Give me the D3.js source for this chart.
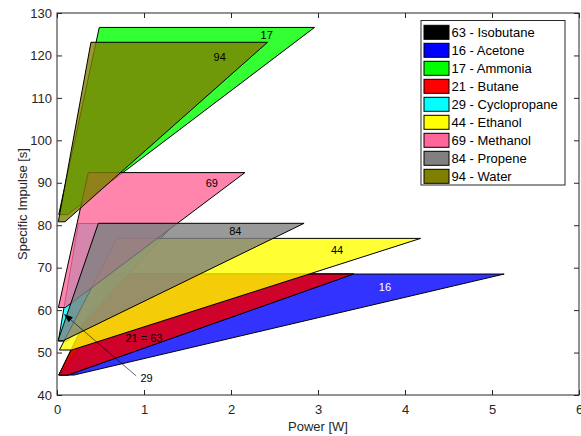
<!DOCTYPE html>
<html>
<head>
<meta charset="utf-8">
<script src="https://cdn.jsdelivr.net/npm/d3@7"></script>
<style>
  html, body { margin: 0; padding: 0; background: #fff; }
  svg { display: block; font-family: "Liberation Sans", Arial, Helvetica, sans-serif; }
</style>
</head>
<body>
<svg id="chart" width="581" height="436"></svg>
<script>
// ---- data ----
const fluidIds   = ["63", "16", "17", "21", "29", "44", "69", "84", "94"];
const fluidNames = ["Isobutane", "Acetone", "Ammonia", "Butane", "Cyclopropane", "Ethanol", "Methanol", "Propene", "Water"];
// corners of each operating region (Power [W], Specific Impulse [s])
const powerBottomLeft  = [0.020, 0.030, 0.020, 0.020, 0.015, 0.028, 0.016, 0.012, 0.015];
const powerBottomRight = [0.126, 0.195, 0.120, 0.126, 0.120, 0.169, 0.095, 0.072, 0.092];
const ispBottom        = [44.7, 44.7, 82.5, 44.7, 52.7, 50.6, 60.6, 52.8, 80.8];
const powerTopLeft     = [0.59, 0.86, 0.486, 0.59, 0.245, 0.69, 0.36, 0.475, 0.39];
const powerTopRight    = [3.41, 5.14, 2.96, 3.41, 1.35, 4.18, 2.16, 2.84, 2.42];
const ispTop           = [68.5, 68.5, 126.6, 68.5, 80.4, 76.9, 92.4, 80.45, 123.1];
// region labels
const labelTexts  = ["17", "94", "69", "84", "44", "16", "21 = 63", "29"];
const labelPower  = [2.41, 1.87, 1.78, 2.05, 3.22, 3.77, 1.00, 1.03];
const labelIsp    = [124.8, 119.6, 90.0, 78.5, 74.2, 65.5, 53.3, 43.9];
// arrow for label 29
const arrowFrom = [0.91, 44.5];
const arrowTo   = [0.08, 59.1];
// axes
const xTicks = [0, 1, 2, 3, 4, 5, 6];
const yTicks = [40, 50, 60, 70, 80, 90, 100, 110, 120, 130];

// ---- styles ----
const palette = ["#000000", "#0000ff", "#00ff00", "#ff0000", "#00ffff", "#ffff00", "#ff6699", "#808080", "#808000"];
const labelColors = ["#000", "#000", "#000", "#000", "#000", "#fff", "#000", "#000"];
const axisColor = "#262626";

const svg = d3.select("#chart");
const L = 57, R = 579, T = 13, B = 395;
const x = d3.scaleLinear().domain([0, 6]).range([L, R]);
const y = d3.scaleLinear().domain([40, 130]).range([B, T]);

// regions
const regions = fluidIds.map((id, i) => ({
  id, name: fluidNames[i], color: palette[i],
  pts: [[powerBottomLeft[i], ispBottom[i]], [powerBottomRight[i], ispBottom[i]],
        [powerTopRight[i], ispTop[i]], [powerTopLeft[i], ispTop[i]]]
}));
const line = d3.line().x(d => x(d[0])).y(d => y(d[1]));
svg.append("g").selectAll("path").data(regions).join("path")
  .attr("d", d => line(d.pts) + "Z")
  .attr("fill", d => d.color)
  .attr("fill-opacity", 0.8)
  .attr("stroke", "#000")
  .attr("stroke-width", 1)
  .attr("stroke-linejoin", "miter");

// labels
svg.append("g").selectAll("text").data(labelTexts).join("text")
  .attr("x", (d, i) => x(labelPower[i]))
  .attr("y", (d, i) => y(labelIsp[i]))
  .attr("dy", "0.35em")
  .attr("text-anchor", "middle")
  .attr("font-size", 11)
  .attr("fill", (d, i) => labelColors[i])
  .text(d => d);

// arrow
const ax0 = x(arrowFrom[0]), ay0 = y(arrowFrom[1]);
const ax1 = x(arrowTo[0]), ay1 = y(arrowTo[1]);
const ang = Math.atan2(ay1 - ay0, ax1 - ax0);
const hl = 9, hw = 3.2;
const bx = ax1 - hl * Math.cos(ang), by = ay1 - hl * Math.sin(ang);
svg.append("line")
  .attr("x1", ax0).attr("y1", ay0).attr("x2", bx).attr("y2", by)
  .attr("stroke", "#000").attr("stroke-width", 0.6);
svg.append("path")
  .attr("d", `M${ax1},${ay1}L${bx + hw * Math.sin(ang)},${by - hw * Math.cos(ang)}L${bx - hw * Math.sin(ang)},${by + hw * Math.cos(ang)}Z`)
  .attr("fill", "#000");

// axes
function styleAxis(g) {
  g.selectAll("path.domain").remove();
  g.selectAll("line").attr("stroke", axisColor);
  g.selectAll("text").attr("fill", axisColor).attr("font-size", 13)
    .attr("font-family", "\"Liberation Sans\", Arial, Helvetica, sans-serif");
}
svg.append("g").attr("transform", `translate(0,${B})`)
  .call(d3.axisBottom(x).tickValues(xTicks).tickFormat(d3.format("d")).tickSizeInner(-5).tickSizeOuter(0).tickPadding(10))
  .call(styleAxis);
svg.append("g").attr("transform", `translate(0,${T})`)
  .call(d3.axisTop(x).tickValues(xTicks).tickFormat("").tickSizeInner(-5).tickSizeOuter(0))
  .call(styleAxis);
svg.append("g").attr("transform", `translate(${L},0)`)
  .call(d3.axisLeft(y).tickValues(yTicks).tickFormat(d3.format("d")).tickSizeInner(-5).tickSizeOuter(0).tickPadding(5))
  .call(styleAxis);
svg.append("g").attr("transform", `translate(${R},0)`)
  .call(d3.axisRight(y).tickValues(yTicks).tickFormat("").tickSizeInner(-5).tickSizeOuter(0))
  .call(styleAxis);
svg.append("rect")
  .attr("x", L).attr("y", T).attr("width", R - L).attr("height", B - T)
  .attr("fill", "none").attr("stroke", axisColor).attr("stroke-width", 1);

// axis titles
svg.append("text")
  .attr("x", (L + R) / 2).attr("y", 431)
  .attr("text-anchor", "middle").attr("font-size", 13).attr("fill", axisColor)
  .text("Power [W]");
svg.append("text")
  .attr("transform", `translate(27,${(T + B) / 2}) rotate(-90)`)
  .attr("text-anchor", "middle").attr("font-size", 13).attr("fill", axisColor)
  .text("Specific Impulse [s]");

// legend
const lg = svg.append("g");
lg.append("rect").attr("x", 421).attr("y", 20.5).attr("width", 144).attr("height", 164.5)
  .attr("fill", "#fff").attr("stroke", axisColor).attr("stroke-width", 1);
const rows = lg.selectAll("g.row").data(regions).join("g").attr("class", "row")
  .attr("transform", (d, i) => `translate(0,${32.3 + 18 * i})`);
rows.append("rect").attr("x", 424).attr("y", -7).attr("width", 25).attr("height", 14)
  .attr("fill", d => d.color).attr("stroke", "#000").attr("stroke-width", 1);
rows.append("text").attr("x", 451.5).attr("dy", "0.36em")
  .attr("font-size", 13).attr("fill", "#000")
  .text(d => `${d.id} - ${d.name}`);
</script>
</body>
</html>
